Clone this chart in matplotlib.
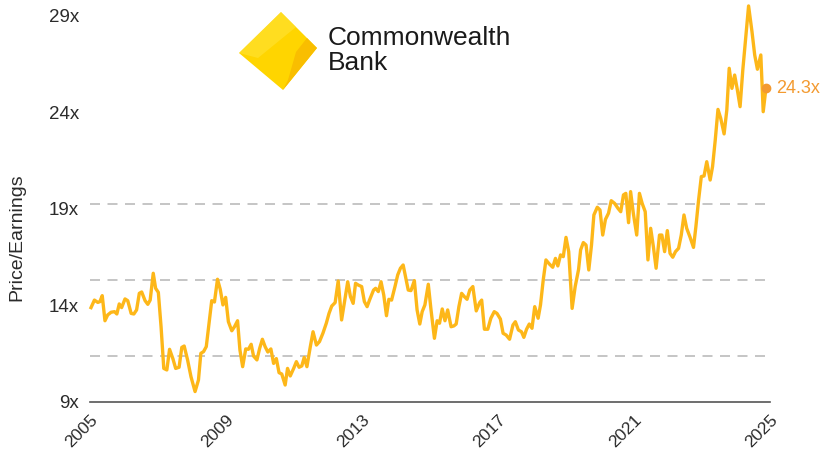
import matplotlib
matplotlib.use("Agg")
from matplotlib import pyplot as plt
from matplotlib.patches import Polygon
import matplotlib.transforms as mtransforms

# CBA price/earnings
years = [
    2005.03, 2005.13, 2005.23, 2005.29, 2005.36, 2005.44, 2005.52, 2005.62, 2005.72, 2005.79,
    2005.86, 2005.93, 2006.03, 2006.11, 2006.21, 2006.29, 2006.37, 2006.45, 2006.52, 2006.62,
    2006.70, 2006.77, 2006.86, 2006.93, 2007.01, 2007.09, 2007.17, 2007.26, 2007.34, 2007.44,
    2007.52, 2007.62, 2007.70, 2007.77, 2007.87, 2007.97, 2008.09, 2008.19, 2008.26, 2008.34,
    2008.42, 2008.50, 2008.58, 2008.66, 2008.75, 2008.83, 2008.91, 2008.99, 2009.07, 2009.17,
    2009.25, 2009.34, 2009.41, 2009.49, 2009.58, 2009.66, 2009.74, 2009.81, 2009.91, 2009.99,
    2010.07, 2010.15, 2010.23, 2010.32, 2010.40, 2010.48, 2010.56, 2010.64, 2010.74, 2010.81,
    2010.89, 2010.99, 2011.07, 2011.15, 2011.23, 2011.30, 2011.38, 2011.48, 2011.56, 2011.66,
    2011.75, 2011.85, 2011.95, 2012.03, 2012.11, 2012.21, 2012.30, 2012.40, 2012.50, 2012.58,
    2012.66, 2012.74, 2012.81, 2012.89, 2012.99, 2013.07, 2013.15, 2013.23, 2013.34, 2013.40,
    2013.48, 2013.56, 2013.64, 2013.72, 2013.79, 2013.87, 2013.97, 2014.05, 2014.13, 2014.21,
    2014.28, 2014.36, 2014.44, 2014.54, 2014.62, 2014.70, 2014.77, 2014.85, 2014.95, 2015.03,
    2015.13, 2015.21, 2015.28, 2015.36, 2015.44, 2015.52, 2015.62, 2015.70, 2015.77, 2015.85,
    2015.93, 2016.01, 2016.09, 2016.17, 2016.26, 2016.36, 2016.46, 2016.52, 2016.60, 2016.70,
    2016.79, 2016.89, 2016.97, 2017.07, 2017.15, 2017.24, 2017.34, 2017.44, 2017.51, 2017.60,
    2017.69, 2017.76, 2017.84, 2017.92, 2018.00, 2018.08, 2018.18, 2018.25, 2018.33, 2018.41,
    2018.51, 2018.61, 2018.69, 2018.76, 2018.84, 2018.92, 2019.00, 2019.08, 2019.18, 2019.27,
    2019.37, 2019.43, 2019.51, 2019.59, 2019.67, 2019.75, 2019.82, 2019.92, 2020.00, 2020.08,
    2020.16, 2020.25, 2020.33, 2020.43, 2020.53, 2020.61, 2020.69, 2020.76, 2020.84, 2020.90,
    2020.98, 2021.08, 2021.16, 2021.24, 2021.33, 2021.41, 2021.49, 2021.57, 2021.65, 2021.75,
    2021.82, 2021.90, 2021.98, 2022.06, 2022.14, 2022.22, 2022.31, 2022.39, 2022.47, 2022.55,
    2022.65, 2022.75, 2022.82, 2022.90, 2022.98, 2023.06, 2023.14, 2023.24, 2023.31, 2023.39,
    2023.47, 2023.55, 2023.65, 2023.73, 2023.80, 2023.88, 2023.96, 2024.04, 2024.12, 2024.20,
    2024.27, 2024.37, 2024.47, 2024.55, 2024.63, 2024.73, 2024.80, 2024.88,
]
pe = [
    13.89, 14.28, 14.16, 14.20, 14.51, 13.21, 13.51, 13.65, 13.68, 13.56,
    14.08, 13.89, 14.34, 14.25, 13.59, 13.56, 13.77, 14.63, 14.70, 14.25,
    14.06, 14.28, 15.67, 14.89, 14.68, 12.90, 10.74, 10.66, 11.73, 11.23,
    10.74, 10.80, 11.83, 11.90, 11.18, 10.31, 9.54, 10.14, 11.52, 11.61,
    11.87, 13.08, 14.25, 14.18, 15.36, 14.84, 14.03, 14.42, 13.16, 12.69,
    12.90, 13.21, 11.69, 10.83, 11.75, 11.73, 11.99, 11.38, 11.18, 11.78,
    12.25, 11.87, 11.59, 11.75, 11.00, 11.25, 10.52, 10.45, 9.88, 10.74,
    10.35, 10.74, 11.09, 10.80, 10.87, 11.31, 10.83, 11.87, 12.64, 11.95,
    12.13, 12.56, 13.08, 13.59, 13.97, 14.15, 15.27, 13.25, 14.37, 15.23,
    14.46, 14.11, 15.15, 15.06, 14.98, 14.20, 13.94, 14.32, 14.80, 14.89,
    14.72, 15.23, 14.54, 13.47, 14.32, 14.28, 14.98, 15.58, 15.93, 16.10,
    15.49, 14.80, 14.77, 15.29, 13.77, 13.04, 13.68, 14.03, 15.10, 13.77,
    12.30, 13.21, 13.08, 13.82, 13.21, 13.77, 12.90, 12.94, 13.04, 13.94,
    14.63, 14.46, 14.32, 14.80, 14.98, 13.72, 14.15, 14.28, 12.77, 12.77,
    13.34, 13.68, 13.59, 13.30, 12.56, 12.47, 12.25, 12.99, 13.16, 12.73,
    12.64, 12.35, 12.77, 13.04, 12.82, 13.94, 13.34, 14.03, 15.32, 16.36,
    16.15, 15.98, 16.44, 16.05, 16.62, 16.53, 17.53, 16.79, 13.85, 14.98,
    15.87, 16.88, 17.26, 17.13, 15.84, 17.13, 18.69, 19.09, 18.95, 17.65,
    18.46, 18.78, 19.43, 19.29, 19.03, 18.86, 19.73, 19.81, 18.29, 19.90,
    18.78, 17.65, 19.81, 19.29, 18.86, 16.36, 18.00, 17.05, 15.93, 17.65,
    17.65, 16.79, 17.88, 16.70, 16.50, 16.79, 16.96, 17.65, 18.69, 18.00,
    17.53, 17.01, 18.08, 19.47, 20.68, 20.71, 21.45, 20.50, 21.19, 22.58,
    24.16, 23.70, 22.89, 24.13, 26.29, 25.25, 25.94, 25.17, 24.30, 26.20,
    27.58, 29.52, 28.19, 26.98, 26.24, 26.98, 24.04, 25.25,
]
band_levels = [11.4, 15.3, 19.25]
ytick_vals = [9, 14, 19, 24, 29]
ytick_labels = ["9x", "14x", "19x", "24x", "29x"]
xtick_vals = [2005, 2009, 2013, 2017, 2021, 2025]
last_label = "24.3x"

LINE = "#FDB719"
DOT = "#F39A30"
TXT = "#2b2b2b"
FONT = "Liberation Sans"

plt.rcParams["font.family"] = FONT

W, H = 822, 453
fig = plt.figure(figsize=(W / 100, H / 100), dpi=100)
ax = fig.add_axes([90 / W, (H - 402) / H, 680 / W, 400.5 / H])

for lvl in band_levels:
    ax.axhline(lvl, color="#BBBBBB", lw=1.2, dashes=(6, 4.5), zorder=1)

ax.plot(years, pe, color=LINE, lw=2.4, zorder=3, clip_on=False, solid_joinstyle="round")
ax.plot(years[-1], pe[-1], "o", color=DOT, ms=6, zorder=4, clip_on=False)
ax.annotate(last_label, (years[-1], pe[-1]), xytext=(7, 0), textcoords="offset points",
            va="center", ha="left", color=DOT, fontsize=13)

ax.set_xlim(2005, 2025)
ax.set_ylim(9, 29.75)
ax.set_yticks(ytick_vals)
ax.set_yticklabels(ytick_labels)
ax.set_xticks(xtick_vals)
ax.set_xticklabels([str(y) for y in xtick_vals], rotation=45, ha="right",
                   rotation_mode="anchor", va="top")
offset = mtransforms.ScaledTranslation(8 / 100, 0, fig.dpi_scale_trans)
for lab in ax.get_xticklabels():
    lab.set_transform(lab.get_transform() + offset)

ax.tick_params(axis="both", length=0, colors=TXT)
ax.tick_params(axis="y", pad=8, labelsize=13.5)
ax.tick_params(axis="x", pad=7, labelsize=12.5)
for s in ["top", "right", "left"]:
    ax.spines[s].set_visible(False)
ax.spines["bottom"].set_color("#555555")
ax.spines["bottom"].set_linewidth(1.2)

fig.text(17 / W, 1 - 237 / H, "Price/Earnings", rotation=90, ha="center", va="center",
         color=TXT, fontsize=14)

# logo
lg = fig.add_axes([0, 0, 1, 1], zorder=5)
lg.set_xlim(0, W)
lg.set_ylim(H, 0)
lg.axis("off")
lg.add_patch(Polygon([(239, 53), (281, 12), (317, 48), (283, 90)], closed=True,
                     facecolor="#FFD500", edgecolor="none"))
lg.add_patch(Polygon([(307, 38), (317, 48), (283, 90), (288, 80), (296, 52)], closed=True,
                     facecolor="#F9BE00", edgecolor="none"))
lg.add_patch(Polygon([(239, 53), (281, 12), (296, 27), (258, 58)], closed=True,
                     facecolor="#FFE640", edgecolor="none", alpha=0.5))
lg.text(328, 38, "Commonwealth", ha="left", va="center", fontsize=19, color="#1a1a1a")
lg.text(328, 63, "Bank", ha="left", va="center", fontsize=19, color="#1a1a1a")

fig.savefig("out.png", dpi=100)
